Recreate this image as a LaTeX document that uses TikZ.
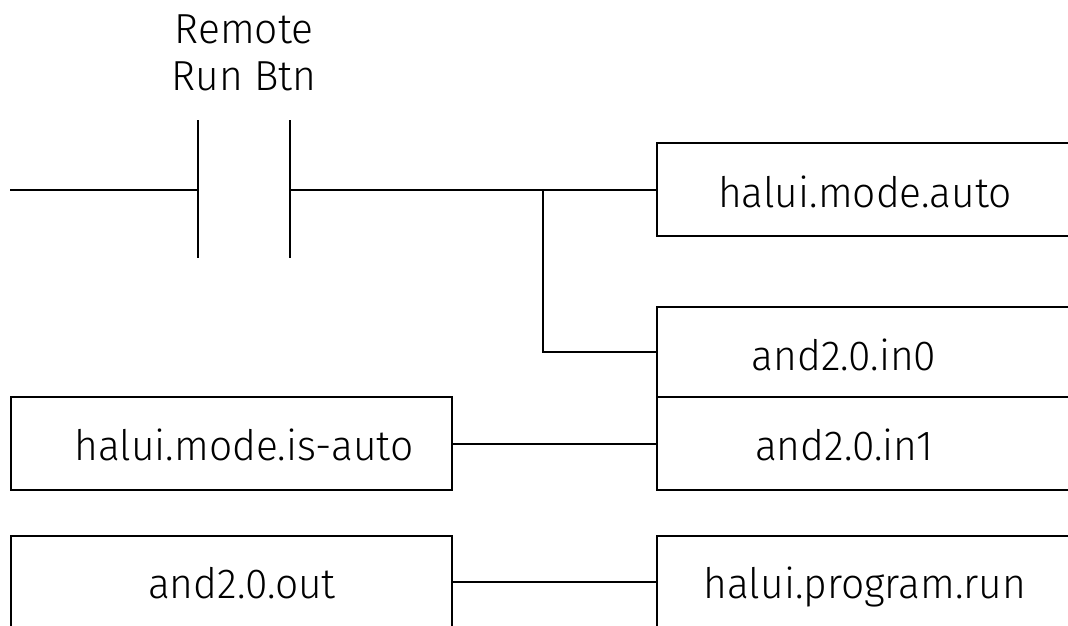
\documentclass[tikz,border=0pt]{standalone}
\usepackage{fontspec}
\setmainfont{Fira Sans Light}[FakeStretch=0.97]
\begin{document}
\begin{tikzpicture}[x=1pt,y=-1pt,line width=2pt,
  lbl/.style={font=\fontsize{42}{47}\selectfont,anchor=base,inner sep=0pt,align=center},
  box/.style={draw,line width=2pt,inner sep=0pt,minimum width=#1,minimum height=93pt},
  box/.default=441pt]
\useasboundingbox (0,0) rectangle (1068,626);
\clip (0,0) rectangle (1068,626);
% right boxes
\node[box=420pt] (auto) at (867,189.5) {};
\node[box=420pt,minimum height=90pt] (in0) at (867,352) {};
\node[box=420pt] (in1) at (867,443.5) {};
\node[box=420pt] (run) at (867,582) {};
% left boxes
\node[box] (isauto) at (231.5,443.5) {};
\node[box] (out) at (231.5,582) {};
% labels
\node[lbl] (tauto) at (865,207) {halui.mode.auto};
\node[lbl] (tin0) at (844,370) {and2.0.in0};
\node[lbl] (tin1) at (844,460) {and2.0.in1};
\node[lbl] (trun) at (865,598) {halui.program.run};
\node[lbl] (tisauto) at (244,460) {halui.mode.is-auto};
\node[lbl] (tout) at (242,598) {and2.0.out};
\node[lbl] (tbtn) at (244,90) {Remote\\Run Btn};
% contact
\coordinate (L) at (10,189.5);
\coordinate (c1) at (198,189.5);
\coordinate (c2) at (290,189.5);
\coordinate (c1t) at (198,120);
\coordinate (c1b) at (198,258);
\coordinate (c2t) at (290,120);
\coordinate (c2b) at (290,258);
\coordinate (j) at (543,189.5);
\draw (c1t) -- (c1b);
\draw (c2t) -- (c2b);
\draw (L) -- (c1);
\draw (c2) -- (c2 -| auto.west);
\draw (j) |- (in0.west);
\draw (isauto.east) -- (isauto.east -| in1.west);
\draw (out.east) -- (out.east -| run.west);
\end{tikzpicture}
\end{document}
